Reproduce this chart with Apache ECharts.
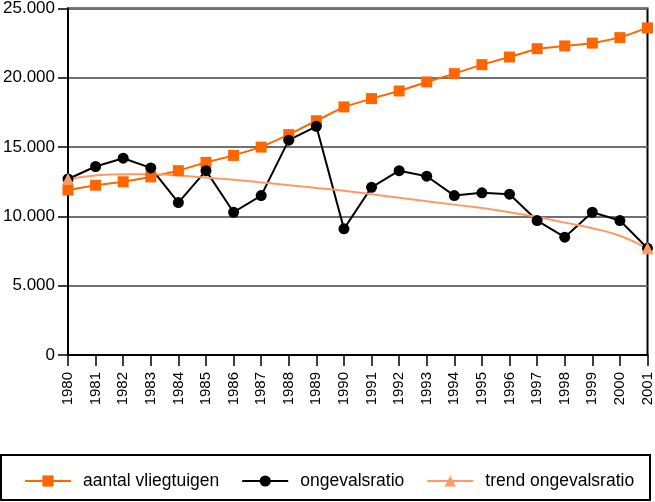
<!DOCTYPE html>
<html>
<head>
<meta charset="utf-8">
<script src="https://cdn.jsdelivr.net/npm/echarts@6/dist/echarts.min.js"></script>
<style>html,body{margin:0;padding:0;background:#fff}#c{width:655px;height:502px}</style>
</head>
<body>
<div id="c"></div>
<script>
var years = ['1980','1981','1982','1983','1984','1985','1986','1987','1988','1989','1990','1991','1992','1993','1994','1995','1996','1997','1998','1999','2000','2001'];
var aantalVliegtuigen = [11900,12250,12500,12850,13300,13900,14400,15000,15900,16900,17900,18500,19050,19700,20300,20950,21500,22100,22300,22500,22900,23600];
var ongevalsratio = [12700,13600,14200,13500,11000,13300,10300,11500,15500,16500,9100,12100,13300,12900,11500,11700,11600,9700,8500,10300,9700,7700];
var trendOngevalsratio = [12700,12950,13050,13050,12950,12800,12650,12450,12250,12050,11850,11600,11350,11100,10850,10600,10300,9950,9550,9150,8600,7700];
var seriesNames = ['aantal vliegtuigen','ongevalsratio','trend ongevalsratio'];

var FONT = 'Liberation Sans';
var last = trendOngevalsratio.length - 1;
var chart = echarts.init(document.getElementById('c'), null, {renderer:'canvas'});
chart.setOption({
  animation: false,
  backgroundColor: '#fff',
  grid: {left: 64, right: 7, top: 6, bottom: 147, show: true, borderColor: '#000', borderWidth: 2},
  xAxis: {
    type: 'category', data: years, boundaryGap: false,
    axisLine: {lineStyle: {color: '#000', width: 2}},
    axisTick: {show: true, length: 11, alignWithLabel: true, lineStyle: {color: '#000', width: 1.5}},
    axisLabel: {rotate: 90, margin: 17, color: '#000', fontFamily: FONT, fontSize: 15, interval: 0},
    splitLine: {show: false}
  },
  yAxis: {
    type: 'value', min: 0, max: 25000, interval: 5000,
    axisLine: {show: true, lineStyle: {color: '#000', width: 2}},
    axisTick: {show: true, length: 10, lineStyle: {color: '#000', width: 1.5}},
    axisLabel: {margin: 13, color: '#000', fontFamily: FONT, fontSize: 17,
      formatter: function(v){ return v === 0 ? '0' : (v/1000).toFixed(3); }},
    splitLine: {show: true, lineStyle: {color: '#707070', width: 2}}
  },
  legend: {
    left: 19, top: 467, itemWidth: 46, itemHeight: 14, itemGap: 22,
    textStyle: {fontFamily: FONT, fontSize: 17.5, color: '#000', padding: [0,0,0,7]},
    data: seriesNames
  },
  graphic: [{type: 'rect', shape: {x: 1, y: 455, width: 649, height: 45},
    style: {fill: 'none', stroke: '#000', lineWidth: 2}, silent: true}],
  series: [
    {name: seriesNames[0], type: 'line', data: aantalVliegtuigen,
      symbol: 'rect', symbolSize: 11, itemStyle: {color: '#FF6600'},
      lineStyle: {color: '#FF6600', width: 2}},
    {name: seriesNames[1], type: 'line', data: ongevalsratio,
      symbol: 'circle', symbolSize: 11, itemStyle: {color: '#000'},
      lineStyle: {color: '#000', width: 2}},
    {name: seriesNames[2], type: 'line', smooth: true,
      data: trendOngevalsratio.map(function(v,i){ return (i===0||i===last) ? v : {value: v, symbol: 'none'}; }),
      symbol: 'triangle', symbolSize: 12, itemStyle: {color: '#FF9966'},
      lineStyle: {color: '#FF9966', width: 2}}
  ]
});
</script>
</body>
</html>
